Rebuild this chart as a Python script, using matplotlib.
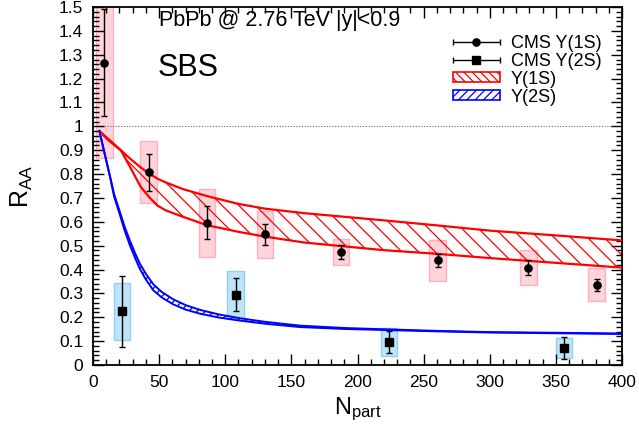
import numpy as np
import matplotlib
matplotlib.use("Agg")
import matplotlib.pyplot as plt
import matplotlib.patches as mpatches
from matplotlib.legend_handler import HandlerErrorbar
from matplotlib.ticker import MultipleLocator, FuncFormatter

plt.rcParams['font.family'] = ['Liberation Sans', 'DejaVu Sans']
plt.rcParams['mathtext.fontset'] = 'custom'
plt.rcParams['mathtext.rm'] = 'Liberation Sans'
plt.rcParams['mathtext.it'] = 'Liberation Sans:italic'
plt.rcParams['hatch.linewidth'] = 0.9

# ---------------- data ----------------
# CMS Y(1S)
npart_1s = [8.6, 42.1, 86.2, 130.0, 187.3, 260.6, 329.2, 380.8]
raa_1s = [1.266, 0.807, 0.596, 0.547, 0.474, 0.438, 0.407, 0.337]
stat_1s = [0.224, 0.077, 0.070, 0.045, 0.030, 0.026, 0.031, 0.025]
syst_1s = [0.398, 0.130, 0.142, 0.100, 0.056, 0.086, 0.073, 0.070]

# CMS Y(2S)
npart_2s = [21.9, 107.9, 223.8, 356.2]
raa_2s = [0.225, 0.295, 0.096, 0.070]
stat_2s = [0.150, 0.070, 0.045, 0.046]
syst_2s = [0.120, 0.100, 0.060, 0.042]

# SBS model band, Y(1S)
model_1s_npart = [4.8, 12, 21, 28, 36, 43, 49, 55, 68, 86, 110, 130, 160,
                  190, 220, 260, 300, 350, 400]
model_1s_hi = [0.98, 0.94, 0.90, 0.865, 0.828, 0.80, 0.78, 0.765, 0.737,
               0.708, 0.675, 0.655, 0.636, 0.621, 0.606, 0.585, 0.563,
               0.543, 0.522]
model_1s_lo = [0.98, 0.945, 0.90, 0.83, 0.747, 0.70, 0.667, 0.648, 0.621,
               0.586, 0.558, 0.538, 0.513, 0.497, 0.481, 0.466, 0.448,
               0.428, 0.408]

# SBS model band, Y(2S)
model_2s_npart = [4.8, 8, 12.9, 16, 20.4, 24, 28, 32, 35.5, 40, 45.6, 52,
                  60.7, 70, 80.9, 95, 111, 130, 156.5, 190, 224.5, 260,
                  300, 350, 400]
model_2s_hi = [0.98, 0.905, 0.79, 0.715, 0.64, 0.578, 0.52, 0.466, 0.424,
               0.382, 0.338, 0.306, 0.275, 0.251, 0.231, 0.212, 0.196,
               0.181, 0.165, 0.155, 0.149, 0.143, 0.138, 0.135, 0.132]
model_2s_lo = [0.98, 0.905, 0.787, 0.705, 0.628, 0.562, 0.50, 0.446, 0.402,
               0.358, 0.313, 0.283, 0.254, 0.232, 0.215, 0.199, 0.186,
               0.173, 0.159, 0.151, 0.146, 0.141, 0.136, 0.133, 0.130]

xticks = [0, 50, 100, 150, 200, 250, 300, 350, 400]

# ---------------- figure ----------------
fig = plt.figure(figsize=(6.39, 4.32), dpi=100)
ax = fig.add_axes([93/639, 67/432, 529/639, 358/432])

box_hw = 6.2
pink_face = '#ffd3da'
pink_edge = '#ffb0bd'
blue_face = '#bfe4f8'
blue_edge = '#8fd0f2'

for x, y, s in zip(npart_1s, raa_1s, syst_1s):
    ax.add_patch(mpatches.Rectangle((x - box_hw, y - s), 2*box_hw, 2*s,
                                    facecolor=pink_face, edgecolor=pink_edge,
                                    linewidth=1.0, zorder=1))
for x, y, s in zip(npart_2s, raa_2s, syst_2s):
    ax.add_patch(mpatches.Rectangle((x - box_hw, y - s), 2*box_hw, 2*s,
                                    facecolor=blue_face, edgecolor=blue_edge,
                                    linewidth=1.0, zorder=1))

ax.axhline(1.0, color='#666666', linestyle=(0, (1, 1.5)), linewidth=0.8, zorder=1.5)

# model bands
ax.fill_between(model_1s_npart, model_1s_lo, model_1s_hi, facecolor='none',
                edgecolor='red', hatch='\\\\', linewidth=0, zorder=2)
ax.plot(model_1s_npart, model_1s_hi, color='red', lw=1.6, zorder=3)
ax.plot(model_1s_npart, model_1s_lo, color='red', lw=1.6, zorder=3)

ax.fill_between(model_2s_npart, model_2s_lo, model_2s_hi, facecolor='none',
                edgecolor='blue', hatch='////', linewidth=0, zorder=2)
ax.plot(model_2s_npart, model_2s_hi, color='blue', lw=1.4, zorder=3)
ax.plot(model_2s_npart, model_2s_lo, color='blue', lw=1.4, zorder=3)

# data points
ax.errorbar(npart_1s, raa_1s, yerr=stat_1s, fmt='o', color='black', ms=5.2,
            capsize=2.2, elinewidth=1.0, capthick=1.0, zorder=5)
ax.errorbar(npart_2s, raa_2s, yerr=stat_2s, fmt='s', color='black', ms=5.8,
            capsize=2.2, elinewidth=1.0, capthick=1.0, zorder=5)

# legend proxies
h1 = ax.errorbar([np.nan], [np.nan], xerr=[1], fmt='o', color='black', ms=5.2,
                 capsize=2.5, elinewidth=1.0)
h2 = ax.errorbar([np.nan], [np.nan], xerr=[1], fmt='s', color='black', ms=5.8,
                 capsize=2.5, elinewidth=1.0)
p1 = mpatches.Patch(facecolor='white', edgecolor='red', hatch='\\\\\\\\', linewidth=1.2)
p2 = mpatches.Patch(facecolor='white', edgecolor='blue', hatch='////', linewidth=1.2)
leg = ax.legend([h1, h2, p1, p2],
                ['CMS Y(1S)', 'CMS Y(2S)', 'Y(1S)', 'Y(2S)'],
                loc='upper left', bbox_to_anchor=(0.68, 0.922),
                frameon=False, fontsize=13, handlelength=2.62,
                handleheight=0.5, handletextpad=0.6, labelspacing=0.05,
                borderpad=0, borderaxespad=0, numpoints=1,
                handler_map={h1: HandlerErrorbar(xerr_size=1.31),
                             h2: HandlerErrorbar(xerr_size=1.31)})

# texts
ax.text(0.125, 0.992, 'PbPb @ 2.76 TeV |y|<0.9', transform=ax.transAxes,
        fontsize=15.5, ha='left', va='top')
ax.text(0.122, 0.806, 'SBS', transform=ax.transAxes, fontsize=22,
        ha='left', va='baseline')

# axes
ax.set_xlim(0, 400)
ax.set_ylim(0, 1.5)
ax.set_xticks(xticks)
ax.xaxis.set_minor_locator(MultipleLocator(10))
ax.yaxis.set_major_locator(MultipleLocator(0.1))
ax.yaxis.set_minor_locator(MultipleLocator(0.02))
ax.yaxis.set_major_formatter(FuncFormatter(lambda v, p: '%g' % round(v, 2)))
ax.tick_params(which='both', direction='in', top=True, right=True,
               labelsize=12.5, width=1.0)
ax.tick_params(which='major', length=8, pad=7)
ax.tick_params(which='minor', length=4)
for sp in ax.spines.values():
    sp.set_linewidth(1.3)

ax.set_xlabel(r'N$_{\mathrm{part}}$', fontsize=17, labelpad=4)
ax.set_ylabel(r'R$_{\mathrm{AA}}$', fontsize=18, labelpad=17)

fig.savefig('out.png', dpi=100)
